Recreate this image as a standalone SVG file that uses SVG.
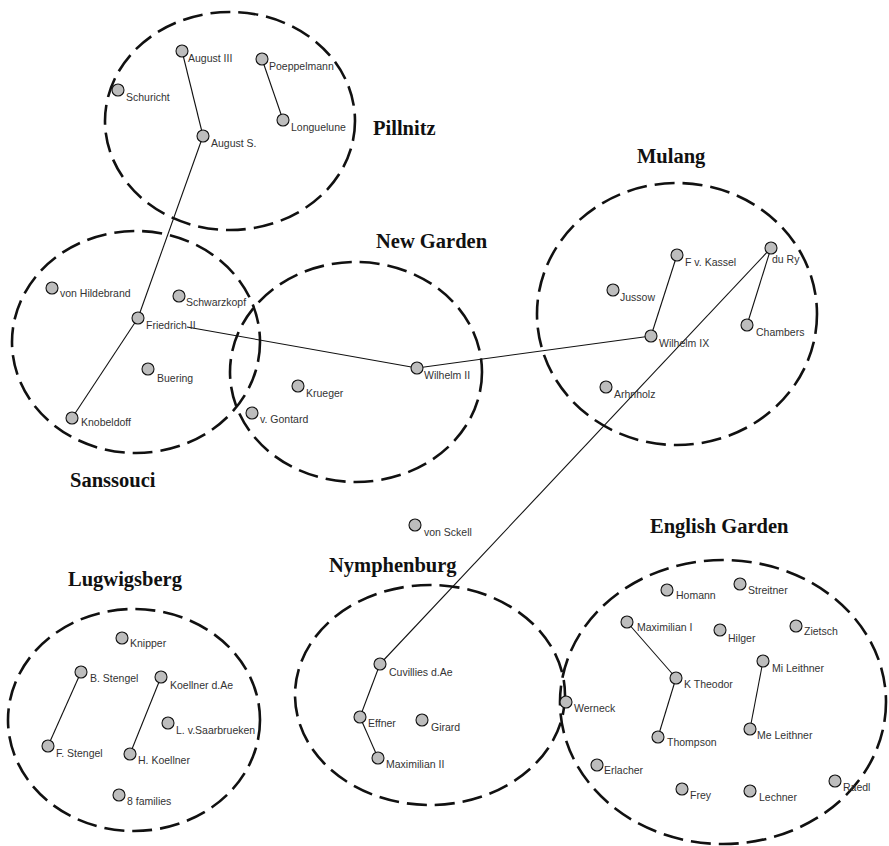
<svg xmlns="http://www.w3.org/2000/svg" width="889" height="846" viewBox="0 0 889 846">
<style>
.bg{fill:#ffffff}
.cl{fill:none;stroke:#111;stroke-width:2.6;stroke-dasharray:20 8}
.e{stroke:#111;stroke-width:1.1;fill:none}
.n{fill:#bdbdbd;stroke:#111;stroke-width:1.1}
.t{font-family:"Liberation Sans",Arial,sans-serif;font-size:10.5px;fill:#333}
.g{font-family:"Liberation Serif","Times New Roman",serif;font-size:20.5px;font-weight:bold;fill:#111}
</style>
<rect class="bg" x="0" y="0" width="889" height="846"/>
<g id="clusters">
<g id="pillnitz"><ellipse class="cl" cx="230" cy="121" rx="125" ry="109"/><text class="g" x="373" y="135">Pillnitz</text></g>
<g id="sanssouci"><ellipse class="cl" cx="136" cy="342" rx="124" ry="111"/><text class="g" x="70" y="487">Sanssouci</text></g>
<g id="newgarden"><ellipse class="cl" cx="356" cy="372" rx="126" ry="110"/><text class="g" x="376" y="248">New Garden</text></g>
<g id="mulang"><ellipse class="cl" cx="677" cy="314" rx="140" ry="131"/><text class="g" x="637" y="163">Mulang</text></g>
<g id="lugwigsberg"><ellipse class="cl" cx="134" cy="720" rx="126" ry="111"/><text class="g" x="68" y="586">Lugwigsberg</text></g>
<g id="nymphenburg"><ellipse class="cl" cx="430" cy="695" rx="135" ry="110"/><text class="g" x="329" y="572">Nymphenburg</text></g>
<g id="englishgarden"><ellipse class="cl" cx="723" cy="702" rx="163" ry="142"/><text class="g" x="650" y="533">English Garden</text></g>
</g>
<g id="connectors">
<line class="e" x1="182" y1="51" x2="203" y2="136"/>
<line class="e" x1="262" y1="59" x2="283" y2="120"/>
<line class="e" x1="203" y1="136" x2="138" y2="318"/>
<line class="e" x1="138" y1="318" x2="72" y2="418"/>
<line class="e" x1="187" y1="327" x2="417" y2="368"/>
<line class="e" x1="417" y1="368" x2="651" y2="336"/>
<line class="e" x1="651" y1="336" x2="677" y2="255"/>
<line class="e" x1="771" y1="248" x2="747" y2="325"/>
<line class="e" x1="771" y1="248" x2="380" y2="664"/>
<line class="e" x1="380" y1="664" x2="360" y2="717"/>
<line class="e" x1="360" y1="717" x2="378" y2="758"/>
<line class="e" x1="81" y1="672" x2="48" y2="746"/>
<line class="e" x1="161" y1="677" x2="130" y2="754"/>
<line class="e" x1="627" y1="622" x2="676" y2="678"/>
<line class="e" x1="676" y1="678" x2="658" y2="737"/>
<line class="e" x1="763" y1="661" x2="750" y2="729"/>
</g>
<g id="nodes">
<g id="n-august3"><circle class="n" cx="182" cy="51" r="6"/><text class="t" x="188" y="62">August III</text></g>
<g id="n-poeppelmann"><circle class="n" cx="262" cy="59" r="6"/><text class="t" x="269" y="70">Poeppelmann</text></g>
<g id="n-schuricht"><circle class="n" cx="118" cy="90" r="6"/><text class="t" x="126" y="101">Schuricht</text></g>
<g id="n-longuelune"><circle class="n" cx="283" cy="120" r="6"/><text class="t" x="291" y="131">Longuelune</text></g>
<g id="n-augusts"><circle class="n" cx="203" cy="136" r="6"/><text class="t" x="211" y="147">August S.</text></g>
<g id="n-hildebrand"><circle class="n" cx="52" cy="288" r="6"/><text class="t" x="60" y="297">von Hildebrand</text></g>
<g id="n-schwarzkopf"><circle class="n" cx="179" cy="296" r="6"/><text class="t" x="186" y="306">Schwarzkopf</text></g>
<g id="n-friedrich"><circle class="n" cx="138" cy="318" r="6"/><text class="t" x="146" y="329">Friedrich II</text></g>
<g id="n-buering"><circle class="n" cx="148" cy="369" r="6"/><text class="t" x="157" y="382">Buering</text></g>
<g id="n-knobeldoff"><circle class="n" cx="72" cy="418" r="6"/><text class="t" x="81" y="426">Knobeldoff</text></g>
<g id="n-wilhelm2"><circle class="n" cx="417" cy="368" r="6"/><text class="t" x="424" y="379">Wilhelm II</text></g>
<g id="n-krueger"><circle class="n" cx="298" cy="386" r="6"/><text class="t" x="306" y="397">Krueger</text></g>
<g id="n-gontard"><circle class="n" cx="252" cy="413" r="6"/><text class="t" x="260" y="423">v. Gontard</text></g>
<g id="n-kassel"><circle class="n" cx="677" cy="255" r="6"/><text class="t" x="685" y="266">F v. Kassel</text></g>
<g id="n-dury"><circle class="n" cx="771" cy="248" r="6"/><text class="t" x="772" y="263">du Ry</text></g>
<g id="n-jussow"><circle class="n" cx="613" cy="290" r="6"/><text class="t" x="620" y="301">Jussow</text></g>
<g id="n-chambers"><circle class="n" cx="747" cy="325" r="6"/><text class="t" x="756" y="336">Chambers</text></g>
<g id="n-wilhelm9"><circle class="n" cx="651" cy="336" r="6"/><text class="t" x="659" y="347">Wilhelm IX</text></g>
<g id="n-arhnholz"><circle class="n" cx="606" cy="387" r="6"/><text class="t" x="614" y="398">Arhnholz</text></g>
<g id="n-knipper"><circle class="n" cx="122" cy="638" r="6"/><text class="t" x="130" y="647">Knipper</text></g>
<g id="n-bstengel"><circle class="n" cx="81" cy="672" r="6"/><text class="t" x="90" y="682">B. Stengel</text></g>
<g id="n-koellnerdae"><circle class="n" cx="161" cy="677" r="6"/><text class="t" x="170" y="689">Koellner d.Ae</text></g>
<g id="n-saarbrueken"><circle class="n" cx="168" cy="723" r="6"/><text class="t" x="176" y="734">L. v.Saarbrueken</text></g>
<g id="n-fstengel"><circle class="n" cx="48" cy="746" r="6"/><text class="t" x="56" y="757">F. Stengel</text></g>
<g id="n-hkoellner"><circle class="n" cx="130" cy="754" r="6"/><text class="t" x="138" y="764">H. Koellner</text></g>
<g id="n-8families"><circle class="n" cx="119" cy="795" r="6"/><text class="t" x="127" y="805">8 families</text></g>
<g id="n-sckell"><circle class="n" cx="415" cy="525" r="6"/><text class="t" x="424" y="536">von Sckell</text></g>
<g id="n-cuvillies"><circle class="n" cx="380" cy="664" r="6"/><text class="t" x="389" y="676">Cuvillies d.Ae</text></g>
<g id="n-effner"><circle class="n" cx="360" cy="717" r="6"/><text class="t" x="368" y="727">Effner</text></g>
<g id="n-girard"><circle class="n" cx="422" cy="720" r="6"/><text class="t" x="431" y="731">Girard</text></g>
<g id="n-maximilian2"><circle class="n" cx="378" cy="758" r="6"/><text class="t" x="386" y="768">Maximilian II</text></g>
<g id="n-homann"><circle class="n" cx="667" cy="590" r="6"/><text class="t" x="676" y="599">Homann</text></g>
<g id="n-streitner"><circle class="n" cx="740" cy="584" r="6"/><text class="t" x="748" y="594">Streitner</text></g>
<g id="n-maximilian1"><circle class="n" cx="627" cy="622" r="6"/><text class="t" x="637" y="631">Maximilian I</text></g>
<g id="n-hilger"><circle class="n" cx="720" cy="630" r="6"/><text class="t" x="728" y="642">Hilger</text></g>
<g id="n-zietsch"><circle class="n" cx="796" cy="626" r="6"/><text class="t" x="804" y="635">Zietsch</text></g>
<g id="n-mileithner"><circle class="n" cx="763" cy="661" r="6"/><text class="t" x="772" y="672">Mi Leithner</text></g>
<g id="n-ktheodor"><circle class="n" cx="676" cy="678" r="6"/><text class="t" x="684" y="688">K Theodor</text></g>
<g id="n-werneck"><circle class="n" cx="566" cy="702" r="6"/><text class="t" x="574" y="712">Werneck</text></g>
<g id="n-thompson"><circle class="n" cx="658" cy="737" r="6"/><text class="t" x="667" y="746">Thompson</text></g>
<g id="n-meleithner"><circle class="n" cx="750" cy="729" r="6"/><text class="t" x="757" y="739">Me Leithner</text></g>
<g id="n-erlacher"><circle class="n" cx="597" cy="765" r="6"/><text class="t" x="604" y="774">Erlacher</text></g>
<g id="n-frey"><circle class="n" cx="682" cy="789" r="6"/><text class="t" x="690" y="799">Frey</text></g>
<g id="n-lechner"><circle class="n" cx="750" cy="791" r="6"/><text class="t" x="759" y="801">Lechner</text></g>
<g id="n-raedl"><circle class="n" cx="835" cy="781" r="6"/><text class="t" x="843" y="791">Raedl</text></g>
</g>
</svg>
